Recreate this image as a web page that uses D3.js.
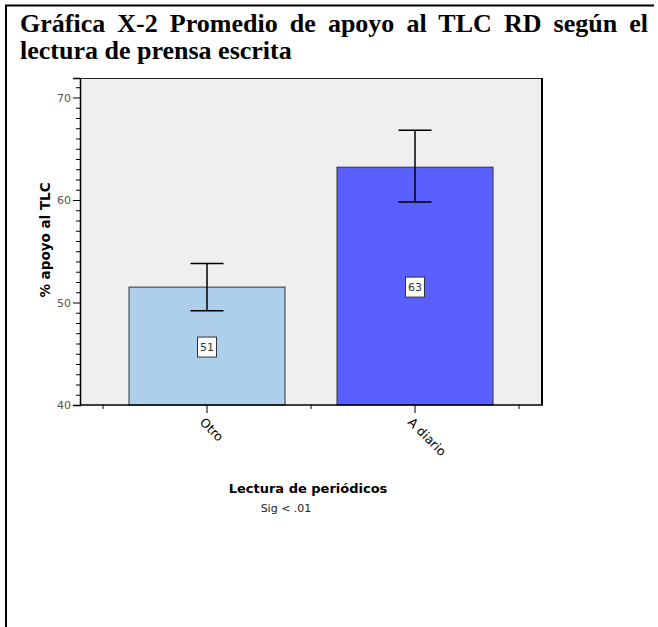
<!DOCTYPE html>
<html><head><meta charset="utf-8">
<script src="https://cdn.jsdelivr.net/npm/d3@7/dist/d3.min.js"></script>
<style>body{margin:0;background:#fff}svg{display:block}</style>
</head><body>
<svg id="c" width="658" height="627"></svg>
<script>
const categories = ["Otro", "A diario"];
const means = [51.5, 63.2];
const ciLow = [49.2, 59.8];
const ciHigh = [53.8, 66.8];
const barLabels = ["51", "63"];
const barColors = ["#aecfec", "#5a5fff"];
const yMajorTicks = [40, 50, 60, 70];
const titleLine1 = "Gráfica X-2 Promedio de apoyo al TLC RD según el";
const titleLine2 = "lectura de prensa escrita";
const xTitle = "Lectura de periódicos";
const yTitle = "% apoyo al TLC";
const note = "Sig < .01";

const svg = d3.select("#c");
// frame
svg.append("line").attr("x1",5).attr("x2",654).attr("y1",5.5).attr("y2",5.5).attr("stroke","#000").attr("stroke-width",2);
svg.append("line").attr("x1",6).attr("x2",6).attr("y1",5).attr("y2",627).attr("stroke","#000").attr("stroke-width",2);

// title
const tf = "'Liberation Serif','Times New Roman',serif";
const t1 = svg.append("text").attr("x",20).attr("y",32).attr("font-family",tf).attr("font-weight","bold")
  .attr("font-size",26).text(titleLine1);
const nat = t1.node().getComputedTextLength();
const nSpaces = titleLine1.split(" ").length - 1;
const target = 628;
if (nat < target) t1.attr("word-spacing", (target - nat) / nSpaces);
svg.append("text").attr("x",20).attr("y",59).attr("font-family",tf).attr("font-weight","bold")
  .attr("font-size",26).text(titleLine2);

const L=80, R=542, T=78, B=405;
const y = d3.scaleLinear().domain([40, 71.9]).range([B, T]);
const x = d3.scaleBand().domain(categories).range([103, 519]).paddingInner(0).paddingOuter(0);

svg.append("rect").attr("x",L).attr("y",T).attr("width",R-L).attr("height",B-T).attr("fill","#efefef");
svg.append("line").attr("x1",L).attr("x2",R+1).attr("y1",T+0.5).attr("y2",T+0.5).attr("stroke","#222").attr("stroke-width",1);
svg.append("line").attr("x1",R).attr("x2",R).attr("y1",T).attr("y2",B).attr("stroke","#000").attr("stroke-width",2);

const sf = "'DejaVu Sans',Verdana,sans-serif";

// bars
const bw = x.bandwidth()*0.75;
svg.selectAll("rect.bar").data(categories).join("rect").attr("class","bar")
  .attr("x",(d)=>x(d)+x.bandwidth()/2-bw/2).attr("width",bw)
  .attr("y",(d,i)=>y(means[i])).attr("height",(d,i)=>B-y(means[i]))
  .attr("fill",(d,i)=>barColors[i]).attr("stroke","#333").attr("stroke-width",1);

// error bars
const cw = 33;
categories.forEach((c,i)=>{
  const cx = x(c)+x.bandwidth()/2;
  const g = svg.append("g").attr("stroke","#000").attr("stroke-width",1.5);
  g.append("line").attr("x1",cx).attr("x2",cx).attr("y1",y(ciHigh[i])).attr("y2",y(ciLow[i]));
  g.append("line").attr("x1",cx-cw/2).attr("x2",cx+cw/2).attr("y1",y(ciHigh[i])).attr("y2",y(ciHigh[i]));
  g.append("line").attr("x1",cx-cw/2).attr("x2",cx+cw/2).attr("y1",y(ciLow[i])).attr("y2",y(ciLow[i]));
  const my = (y(means[i])+B)/2 + 1;
  svg.append("rect").attr("x",cx-9.5).attr("y",my-10).attr("width",19).attr("height",20)
    .attr("fill","#fff").attr("stroke","#333").attr("stroke-width",1);
  svg.append("text").attr("x",cx).attr("y",my+4).attr("text-anchor","middle")
    .attr("font-family",sf).attr("font-size",11).attr("fill","#333").text(barLabels[i]);
});

// y axis
const yAxis = d3.axisLeft(y).tickValues(yMajorTicks).tickSize(7).tickPadding(2).tickFormat(d3.format("d"));
const ya = svg.append("g").attr("transform",`translate(${L},0)`).call(yAxis);
ya.select(".domain").attr("stroke","#000").attr("stroke-width",1.5);
ya.selectAll(".tick line").attr("stroke","#000");
ya.selectAll(".tick text").attr("font-family",sf).attr("font-size",11).attr("fill","#555");
const minor = d3.range(40, 72, 1).filter(v=>v%10!==0);
const ym = d3.axisLeft(y).tickValues(minor).tickSize(4).tickFormat("");
const yma = svg.append("g").attr("transform",`translate(${L},0)`).call(ym);
yma.select(".domain").remove();
yma.selectAll(".tick line").attr("stroke","#000");

// x axis
const xa = svg.append("g").attr("transform",`translate(0,${B})`)
  .call(d3.axisBottom(x).tickSize(8).tickPadding(6));
xa.select(".domain").remove();
svg.append("line").attr("x1",L).attr("x2",R+1).attr("y1",B).attr("y2",B).attr("stroke","#000").attr("stroke-width",1.5);
xa.selectAll(".tick line").attr("stroke","#000");
xa.selectAll(".tick text").attr("font-family",sf).attr("font-size",12.5).attr("fill","#000")
  .attr("text-anchor","start").attr("dy",null).attr("y",0).attr("x",0)
  .attr("transform","translate(-8,18) rotate(45)");
const bounds = [103, 311, 519];
svg.selectAll("line.bt").data(bounds).join("line").attr("class","bt")
  .attr("x1",d=>d).attr("x2",d=>d).attr("y1",B).attr("y2",B+4).attr("stroke","#000");

// axis titles
svg.append("text").attr("transform","translate(50,240) rotate(-90)").attr("text-anchor","middle")
  .attr("font-family",sf).attr("font-weight","bold").attr("font-size",13.5).text(yTitle);
svg.append("text").attr("x",308).attr("y",493).attr("text-anchor","middle")
  .attr("font-family",sf).attr("font-weight","bold").attr("font-size",13).text(xTitle);
svg.append("text").attr("x",286).attr("y",512).attr("text-anchor","middle")
  .attr("font-family",sf).attr("font-size",11).attr("fill","#222").text(note);
</script>
</body></html>
